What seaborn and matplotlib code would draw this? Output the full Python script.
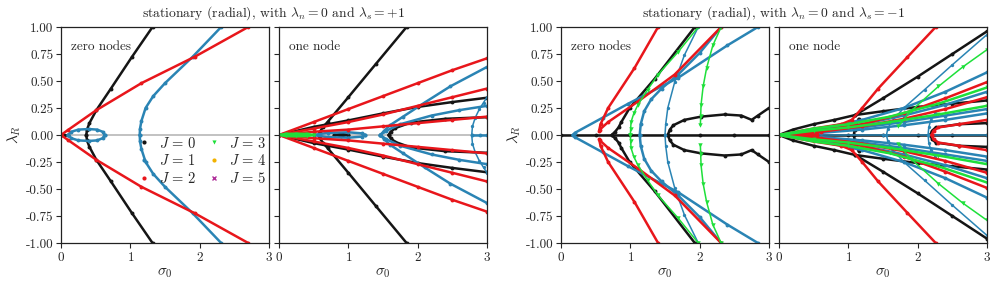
import matplotlib
matplotlib.use('Agg')
import matplotlib.pyplot as plt
from matplotlib.lines import Line2D
import numpy as np
import pandas as pd
import seaborn as sns

# branch data, (sigma_0, lambda_R) pairs.
# the spectrum is symmetric in lambda_R, so most branches are given for the upper half only
# --- lambda_s = +1, zero nodes
p1_j0_vertex = [(0.365, 0), (0.375, 0.05), (0.41, 0.11), (0.51, 0.23), (0.72, 0.43), (1.02, 0.72), (1.32, 1.0)]
p1_j0_origin = [(0.0, 0.0), (0.05, 0.0), (0.1, 0.0)]
p1_j1_loop = [(0.1, 0), (0.15, 0.03), (0.25, 0.05), (0.4, 0.055), (0.52, 0.05), (0.6, 0.03), (0.63, 0)]
p1_j1_vertex = [(1.135, 0), (1.14, 0.06), (1.16, 0.13), (1.22, 0.25), (1.33, 0.36), (1.5, 0.48),
                (1.9, 0.725), (2.31, 1.0)]
p1_j2_line = [(0, 0), (0.1, 0.046), (0.51, 0.23), (1.16, 0.48), (1.93, 0.725), (2.7, 1.0)]

# --- lambda_s = +1, one node
p2_j0_vertex = [(0.57, 0), (0.59, 0.03), (0.63, 0.07), (0.7, 0.12), (1.0, 0.35), (1.4, 0.66), (1.84, 1.0)]
p2_j0_fan = [(0, 0), (0.5, 0.075), (1.0, 0.135), (1.5, 0.2), (2.0, 0.26), (2.5, 0.305), (3.0, 0.345)]
p2_j0_cusp = [(1.58, 0), (1.61, 0.03), (1.68, 0.065), (1.9, 0.115), (2.4, 0.15), (3.0, 0.165)]
p2_j0_blob = [(0.8, 0), (0.9, 0.01), (1.0, 0)]
p2_j1_lens = [(0.5, 0), (0.7, 0.02), (1.0, 0.025), (1.2, 0.015), (1.24, 0)]
p2_j1_cusp_a = [(1.46, 0), (1.52, 0.04), (1.6, 0.09), (1.79, 0.17), (2.1, 0.3), (2.47, 0.45), (3.0, 0.63)]
p2_j1_cusp_b = [(1.46, 0), (1.55, 0.04), (1.75, 0.1), (2.2, 0.18), (2.6, 0.23), (3.0, 0.27)]
p2_j1_edge = [(2.78, 0), (2.79, 0.08), (2.83, 0.16), (2.89, 0.24), (2.95, 0.3), (3.0, 0.35)]
p2_j1_axis = [(2.78, 0), (2.9, 0), (3.0, 0)]
p2_j2_fan_a = [(0, 0), (0.5, 0.12), (1.0, 0.24), (1.5, 0.36), (2.0, 0.48), (2.5, 0.6), (3.0, 0.71)]
p2_j2_fan_b = [(0, 0), (0.5, 0.06), (1.0, 0.12), (1.5, 0.19), (2.0, 0.27), (2.5, 0.35), (3.0, 0.43)]
p2_j2_fan_c = [(0, 0), (0.5, 0.03), (1.0, 0.05), (1.5, 0.08), (2.0, 0.11), (2.5, 0.14), (3.0, 0.17)]
p2_j3_lens = [(0, 0), (0.1, 0.01), (0.25, 0.012), (0.4, 0.01), (0.5, 0)]

# --- lambda_s = -1, zero nodes
p3_j0_axis = [(0, 0), (0.5, 0), (1.0, 0), (1.5, 0), (2.0, 0), (2.5, 0), (3.0, 0)]
p3_j0_vertex = [(0.73, 0), (0.78, 0.03), (0.83, 0.07), (0.87, 0.12), (0.99, 0.25), (1.35, 0.52), (1.93, 1.0)]
p3_j0_bubble = [(1.54, 0), (1.57, 0.05), (1.62, 0.09), (1.78, 0.14), (2.02, 0.17), (2.36, 0.19),
                (2.6, 0.18), (2.75, 0.14), (2.84, 0.18), (3.0, 0.25)]
p3_j1_long = [(0.17, 0), (0.2, 0.02), (0.6, 0.16), (0.97, 0.29), (1.69, 0.53), (2.4, 0.83), (2.84, 1.0)]
p3_j1_thick = [(1.135, 0), (1.15, 0.1), (1.2, 0.22), (1.3, 0.33), (1.45, 0.43), (1.69, 0.56),
               (2.0, 0.76), (2.31, 1.0)]
p3_j1_thin = [(1.5, 0), (1.51, 0.1), (1.54, 0.25), (1.64, 0.49), (1.78, 0.74), (1.98, 1.0)]
p3_j2_steep = [(0.55, 0.04), (0.57, 0.1), (0.68, 0.25), (1.06, 0.62), (1.4, 1.0)]
p3_j2_second = [(0.56, 0.05), (0.68, 0.12), (1.11, 0.31), (1.64, 0.56), (2.31, 1.0)]
p3_j3_a = [(1.0, 0), (1.005, 0.06), (1.01, 0.12), (1.05, 0.2), (1.11, 0.28), (1.25, 0.42), (1.4, 0.56),
           (1.69, 0.77), (1.98, 1.0)]
p3_j3_b = [(2.01, 0.09), (2.015, 0.18), (2.02, 0.28), (2.05, 0.45), (2.1, 0.62), (2.19, 0.83), (2.31, 1.0)]

# --- lambda_s = -1, one node
p4_j0_axis = [(0, 0), (0.5, 0), (1.0, 0), (1.5, 0), (2.0, 0), (2.5, 0), (3.0, 0)]
p4_j0_outer = [(0, 0), (0.2, 0.05), (0.5, 0.1), (0.8, 0.14), (1.1, 0.185), (1.5, 0.34), (2.0, 0.54),
               (2.5, 0.75), (3.0, 0.96)]
p4_j0_mid = [(1.1, 0.185), (1.5, 0.22), (2.0, 0.26), (2.5, 0.29), (3.0, 0.32)]
p4_j0_vertex = [(1.08, 0), (1.09, 0.05), (1.11, 0.1), (1.15, 0.15)]
p4_j0_cusp = [(2.18, 0), (2.21, 0.04), (2.26, 0.07), (2.6, 0.1), (3.0, 0.11)]
p4_j1_curve = [(1.55, 0), (1.57, 0.06), (1.63, 0.13), (1.8, 0.25), (2.1, 0.42), (2.5, 0.65), (3.0, 0.93)]
p4_j1_fan_a = [(0, 0), (0.6, 0.06), (1.2, 0.14), (1.8, 0.25), (2.4, 0.4), (3.0, 0.58)]
p4_j1_fan_b = [(0, 0), (0.6, 0.05), (1.2, 0.1), (1.8, 0.18), (2.4, 0.28), (3.0, 0.40)]
p4_j1_fan_c = [(0, 0), (0.6, 0.03), (1.2, 0.07), (1.8, 0.12), (2.4, 0.18), (3.0, 0.24)]
p4_j1_fan_d = [(0, 0), (0.6, 0.02), (1.2, 0.05), (1.8, 0.09), (2.4, 0.14), (3.0, 0.2)]
p4_j1_axis = [(0, 0), (1.5, 0), (3.0, 0)]
p4_j1_arc = [(2.15, 0), (2.16, 0.07), (2.19, 0.14), (2.25, 0.2)]
p4_j2_steep = [(0, 0), (0.5, 0.06), (0.9, 0.1), (1.05, 0.14), (1.2, 0.25), (1.43, 0.43), (1.85, 0.72),
               (2.26, 1.0)]
p4_j2_fan_a = [(0, 0), (0.6, 0.04), (1.2, 0.1), (1.8, 0.2), (2.4, 0.34), (3.0, 0.49)]
p4_j2_fan_b = [(0, 0), (0.6, 0.03), (1.2, 0.08), (1.8, 0.15), (2.4, 0.24), (3.0, 0.35)]
p4_j2_cusp = [(2.2, 0), (2.23, 0.04), (2.3, 0.07), (2.6, 0.1), (3.0, 0.14)]
p4_j2_axis = [(0, 0), (0.3, 0.01), (0.55, 0.005)]
p4_j3_curve = [(1.72, 0.08), (1.9, 0.22), (2.3, 0.45), (2.65, 0.63), (3.0, 0.79)]
p4_j3_fan_a = [(0, 0), (0.5, 0.06), (1.0, 0.1), (1.6, 0.17), (2.3, 0.29), (3.0, 0.44)]
p4_j3_fan_b = [(0, 0), (0.5, 0.04), (1.0, 0.07), (1.6, 0.12), (2.3, 0.19), (3.0, 0.27)]

J_colors = ['#151515', '#2a84b4', '#e8161b', '#1ee03a', '#f2b200', '#b0309a']
J_markers = ['o', 'o', 'o', 'v', 'o', 'x']
titles = [r'stationary (radial), with $\lambda_n = 0$ and $\lambda_s = +1$',
          r'stationary (radial), with $\lambda_n = 0$ and $\lambda_s = -1$']
panel_text = ['zero nodes', 'one node', 'zero nodes', 'one node']

# (panel, J, points, mirrored, dense)
branches = [
    (0, 0, p1_j0_origin, False, True), (0, 0, p1_j0_vertex, True, True),
    (0, 1, p1_j1_loop, True, True), (0, 1, p1_j1_vertex, True, True),
    (0, 2, p1_j2_line, True, True),
    (1, 0, p2_j0_vertex, True, True), (1, 0, p2_j0_fan, True, True),
    (1, 0, p2_j0_cusp, True, True), (1, 0, p2_j0_blob, True, True),
    (1, 1, p2_j1_lens, True, True), (1, 1, p2_j1_cusp_a, True, True),
    (1, 1, p2_j1_cusp_b, True, True), (1, 1, p2_j1_edge, True, False),
    (1, 1, p2_j1_axis, False, True),
    (1, 2, p2_j2_fan_a, True, True), (1, 2, p2_j2_fan_b, True, True),
    (1, 2, p2_j2_fan_c, True, True),
    (1, 3, p2_j3_lens, True, True),
    (2, 0, p3_j0_axis, False, True), (2, 0, p3_j0_vertex, True, True),
    (2, 0, p3_j0_bubble, True, True),
    (2, 1, p3_j1_long, True, True), (2, 1, p3_j1_thick, True, True),
    (2, 1, p3_j1_thin, True, False),
    (2, 2, p3_j2_steep, True, True), (2, 2, p3_j2_second, True, True),
    (2, 3, p3_j3_a, True, False), (2, 3, p3_j3_b, True, False),
    (3, 0, p4_j0_axis, False, True), (3, 0, p4_j0_outer, True, True),
    (3, 0, p4_j0_mid, True, True), (3, 0, p4_j0_vertex, True, True),
    (3, 0, p4_j0_cusp, True, True),
    (3, 1, p4_j1_curve, True, False), (3, 1, p4_j1_fan_a, True, True),
    (3, 1, p4_j1_fan_b, True, True), (3, 1, p4_j1_fan_c, True, True),
    (3, 1, p4_j1_fan_d, True, True), (3, 1, p4_j1_axis, False, False),
    (3, 1, p4_j1_arc, True, False),
    (3, 2, p4_j2_steep, True, True), (3, 2, p4_j2_fan_a, True, True),
    (3, 2, p4_j2_fan_b, True, True), (3, 2, p4_j2_cusp, True, True),
    (3, 2, p4_j2_axis, True, True),
    (3, 3, p4_j3_curve, True, False), (3, 3, p4_j3_fan_a, True, True),
    (3, 3, p4_j3_fan_b, True, True),
]

rows = []
unit = 0
for panel, J, pts, mirrored, dense in branches:
    halves = [1, -1] if mirrored else [1]
    for sgn in halves:
        for s, l in pts:
            rows.append({'panel': panel, 'J': J, 'unit': unit, 'dense': dense,
                         'sigma': s, 'lam': sgn * l})
        unit += 1
df = pd.DataFrame(rows)

sns.set_theme(style='ticks')
plt.rcParams['font.family'] = 'serif'
plt.rcParams['font.serif'] = ['cmr10', 'DejaVu Serif']
plt.rcParams['mathtext.fontset'] = 'cm'
plt.rcParams['axes.formatter.use_mathtext'] = True
plt.rcParams['axes.unicode_minus'] = True

W, H = 997, 284
fig = plt.figure(figsize=(W / 100, H / 100), dpi=100)
lefts = [61, 279, 561, 779]
axes = [fig.add_axes([l / W, (H - 243) / H, 208 / W, 216 / H]) for l in lefts]

for p, ax in enumerate(axes):
    ax.axhline(0, color='#bdbdbd', lw=1.3, zorder=0)
    for J in range(4):
        for dense in (True, False):
            sub = df[(df.panel == p) & (df.J == J) & (df.dense == dense)]
            if sub.empty:
                continue
            if dense:
                lw, ms = 1.8, 2.8
            else:
                lw, ms = 1.1, 3.2 if J == 3 else 2.4
            sns.lineplot(data=sub, x='sigma', y='lam', units='unit', estimator=None, sort=False,
                         color=J_colors[J], lw=lw, marker=J_markers[J], ms=ms, mew=0,
                         ax=ax, legend=False)
    ax.set_xlim(0, 3)
    ax.set_ylim(-1, 1)
    ax.set_xticks([0, 1, 2, 3])
    ax.set_yticks(np.arange(-1, 1.01, 0.25))
    ax.set_xlabel(r'$\sigma_0$', fontsize=11, labelpad=2)
    ax.tick_params(labelsize=9.5, length=3.5, width=0.8, pad=2)
    for sp in ax.spines.values():
        sp.set_linewidth(0.9)
        sp.set_color('#222222')
    ax.text(0.05, 0.935, panel_text[p], transform=ax.transAxes, fontsize=9.5, va='top')
    if p % 2 == 0:
        ax.set_ylabel(r'$\lambda_R$', fontsize=11, labelpad=2)
        ax.yaxis.set_major_formatter(matplotlib.ticker.FormatStrFormatter('%.2f'))
    else:
        ax.set_ylabel('')
        ax.set_yticklabels([])

fig.text((61 + 487) / 2 / W, 1 - 13 / H, titles[0], ha='center', va='center', fontsize=9.8)
fig.text((561 + 986) / 2 / W, 1 - 13 / H, titles[1], ha='center', va='center', fontsize=9.8)

handles = [Line2D([], [], ls='none', marker=J_markers[J], color=J_colors[J], ms=3.0,
                  mew=1.0 if J_markers[J] == 'x' else 0) for J in range(6)]
labels = [rf'$J\, =\, {J}$' for J in range(6)]
axes[0].legend(handles, labels, ncol=2, loc='center right', bbox_to_anchor=(1.05, 0.38),
               frameon=False, fontsize=10.5, handlelength=1.0, handletextpad=0.5,
               columnspacing=0.7, labelspacing=0.2)

fig.savefig('out.png', dpi=100)
